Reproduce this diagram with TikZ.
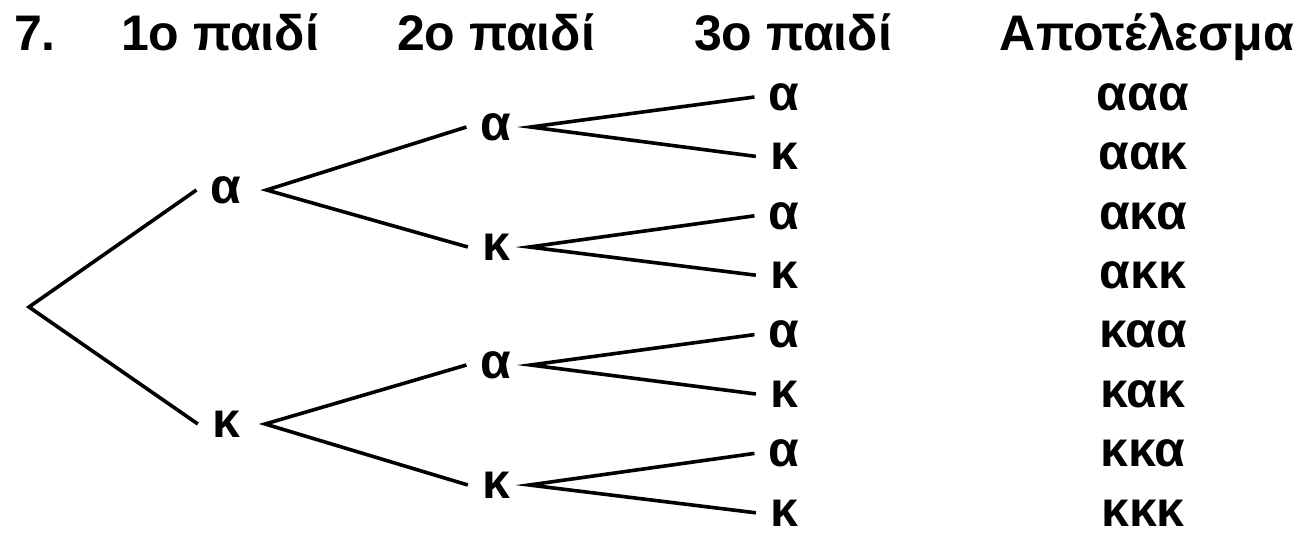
\documentclass[tikz,border=0pt]{standalone}
\usepackage{fontspec}
\setmainfont{Liberation Sans}

\begin{document}
\begin{tikzpicture}[x=1pt,y=-1pt,
    every node/.style={font=\fontsize{50}{58}\selectfont\bfseries},
    branch/.style={line width=3.6pt},
    pick/.style={inner xsep=14pt,inner ysep=0pt}]
  \useasboundingbox (0,0) rectangle (1299,539);
  % column heads
  \node[anchor=base west,inner sep=0pt] (num) at (14,50) {7.};
  \foreach \name/\txt/\x in {h1/1ο παιδί/220, h2/2ο παιδί/496, h3/3ο παιδί/793, hres/Αποτέλεσμα/1147}
    \node[anchor=base,inner sep=0pt] (\name) at (\x,50) {\txt};
  % first and second child
  \coordinate (root) at (29,307);
  \node[pick] (a) at (226,190) {α};
  \node[pick] (k) at (226,424) {κ};
  \node[pick] (aa) at (496,127) {α};
  \node[pick] (ak) at (496,247) {κ};
  \node[pick] (ka) at (496,365) {α};
  \node[pick] (kk) at (496,485) {κ};
  % third child and outcome
  \foreach \t/\res [count=\i from 0] in {α/ααα, κ/αακ, α/ακα, κ/ακκ, α/καα, κ/κακ, α/κκα, κ/κκκ} {
      \node[pick] (leaf\i) at (784,{97+59.4*\i}) {\t};
      \node[inner sep=0pt] (res\i) at (1143,{97+59.4*\i}) {\res};
    }
  \draw[branch] (a.west) -- (root) -- (k.west);
  \draw[branch] (aa.west) -- ([xshift=11pt]a.east) -- (ak.west);
  \draw[branch] (ka.west) -- ([xshift=11pt]k.east) -- (kk.west);
  \foreach \n/\i/\j in {aa/0/1, ak/2/3, ka/4/5, kk/6/7}
    \draw[branch] (leaf\i.west) -- ([xshift=5pt]\n.east) -- (leaf\j.west);
\end{tikzpicture}
\end{document}
